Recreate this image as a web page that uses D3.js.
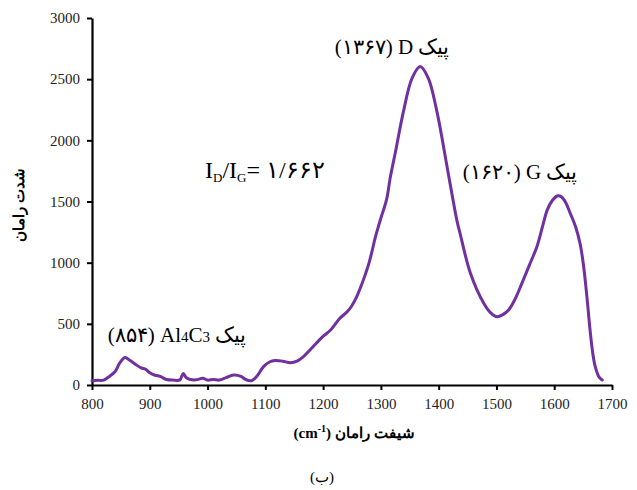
<!DOCTYPE html>
<html><head><meta charset="utf-8">
<script src="https://cdn.jsdelivr.net/npm/d3@7"></script>
<style>body{margin:0;background:#fff;} svg{display:block;} text{font-family:"Liberation Serif","Times New Roman","DejaVu Serif",serif;}</style>
</head><body>
<svg id="c" width="637" height="490"></svg>
<script>
const shift = [800,810,820,830,840,848,857,866,875,885,893,900,909,918,929,940,952,958,963,970,980,992,1000,1010,1020,1032,1045,1058,1066,1076,1085,1097,1108,1117,1130,1143,1155,1166,1180,1198,1213,1229,1242,1250,1258,1265,1272,1279,1285,1290,1299,1310,1316,1325,1339,1354,1368,1382,1397,1414,1420,1432,1437,1455,1478,1490,1501,1511,1521,1532,1544,1557,1570,1580,1588,1597,1605,1612,1619,1628,1637,1645,1651,1657,1662,1667,1671,1677,1683];
const intensity = [35,38,40,70,110,180,225,200,170,140,128,100,80,70,45,40,42,95,60,45,42,55,40,45,40,60,82,70,45,35,70,150,190,200,195,182,195,232,300,390,450,545,600,650,720,800,890,990,1100,1200,1349,1520,1690,1900,2235,2508,2603,2508,2235,1799,1640,1335,1240,913,668,590,558,575,613,700,831,980,1131,1300,1431,1510,1545,1540,1499,1400,1294,1150,967,700,450,250,150,70,41];
const xTicks = [800,900,1000,1100,1200,1300,1400,1500,1600,1700];
const yTicks = [0,500,1000,1500,2000,2500,3000];
const xTitle = "شیفت رامان";
const yTitle = "شدت رامان";
const caption = "(ب)";
const peakD = "(۱۳۶۷) D پیک";
const peakG = "(۱۶۲۰) G پیک";
const ratio = "۱/۶۶۲";

const svg = d3.select("#c");
const L=92, R=612, T=18, B=385;
const x = d3.scaleLinear().domain([800,1700]).range([L,R]);
const y = d3.scaleLinear().domain([0,3000]).range([B,T]);
const serif = '"Liberation Serif","Times New Roman","DejaVu Serif",serif';

const xa = svg.append("g").attr("transform",`translate(0,${B})`)
  .call(d3.axisBottom(x).tickValues(xTicks).tickFormat(d3.format("d")).tickSize(5).tickSizeOuter(0).tickPadding(8));
const ya = svg.append("g").attr("transform",`translate(${L},0)`)
  .call(d3.axisLeft(y).tickValues(yTicks).tickFormat(d3.format("d")).tickSize(5).tickSizeOuter(0).tickPadding(7));
[xa,ya].forEach(a=>{
  a.attr("font-family",serif).attr("font-size",15);
  a.select(".domain").attr("stroke","#000").attr("stroke-width",2.2);
  a.selectAll(".tick line").attr("stroke","#000").attr("stroke-width",2);
  a.selectAll(".tick text").style("font-family",serif).attr("font-size",15).attr("fill","#222");
});

const line = d3.line().x((d,i)=>x(shift[i])).y(d=>y(d)).curve(d3.curveCatmullRom.alpha(0.5));
svg.append("path").attr("d",line(intensity)).attr("fill","none")
  .attr("stroke","#7030A0").attr("stroke-width",3).attr("stroke-linejoin","round").attr("stroke-linecap","round");

// axis titles
const xt = svg.append("text").attr("x",354).attr("y",438).attr("text-anchor","middle")
  .attr("font-weight","bold").attr("font-size",15).attr("direction","ltr");
xt.append("tspan").text("(cm");
xt.append("tspan").attr("font-size",10).attr("dy",-6).text("-1");
xt.append("tspan").attr("dy",6).text(") " + xTitle);

svg.append("text").attr("transform","translate(24,205) rotate(-90)").attr("text-anchor","middle")
  .attr("font-weight","bold").attr("font-size",15).text(yTitle);

svg.append("text").attr("x",322).attr("y",482).attr("text-anchor","middle")
  .attr("font-size",15).attr("direction","ltr").text(caption);

// annotations
svg.append("text").attr("x",392).attr("y",54).attr("text-anchor","middle")
  .attr("font-size",21).attr("direction","ltr").text(peakD);
svg.append("text").attr("x",520).attr("y",179).attr("text-anchor","middle")
  .attr("font-size",21).attr("direction","ltr").text(peakG);

const al = svg.append("text").attr("x",177).attr("y",342).attr("text-anchor","middle")
  .attr("font-size",21).attr("direction","ltr");
al.append("tspan").text("(۸۵۴) Al");
al.append("tspan").attr("font-size",15).text("4");
al.append("tspan").text("C");
al.append("tspan").attr("font-size",15).text("3");
al.append("tspan").text(" پیک");

const rt = svg.append("text").attr("x",205).attr("y",178)
  .attr("font-size",24).attr("direction","ltr");
rt.append("tspan").text("I");
rt.append("tspan").attr("font-size",13).attr("dy",4).text("D");
rt.append("tspan").attr("dy",-4).text("/I");
rt.append("tspan").attr("font-size",13).attr("dy",4).text("G");
rt.append("tspan").attr("dy",-4).text("= " + ratio);
</script>
</body></html>
